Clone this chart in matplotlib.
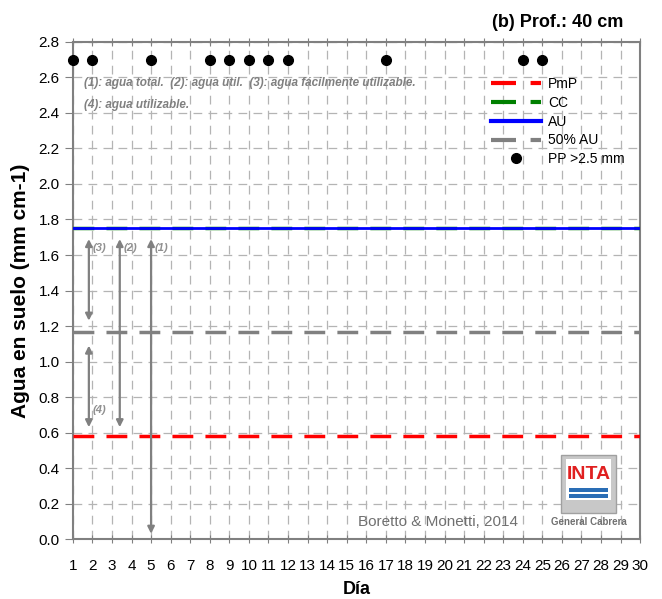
import numpy as np
import matplotlib.pyplot as plt
from matplotlib.patches import Rectangle

plt.rcParams['font.family'] = ['Liberation Sans', 'DejaVu Sans']

# Data
days = np.arange(1, 31)
pmp = 0.58   # punto de marchitez permanente
cc = 1.75    # capacidad de campo
au = 1.75    # agua util
au50 = (pmp + cc) / 2
rain_days = [1, 2, 5, 8, 9, 10, 11, 12, 17, 24, 25]
rain_level = 2.7

fig = plt.figure(figsize=(6.62, 5.99), dpi=100)
ax = fig.add_axes([0.110, 0.100, 0.857, 0.830])

ax.plot(days, np.full(days.size, pmp), color='red', lw=2.5, dashes=(6, 3.5), label='PmP', zorder=3)
ax.plot(days, np.full(days.size, cc), color='green', lw=2.5, dashes=(6, 3.5), label='CC', zorder=3)
ax.plot(days, np.full(days.size, au), color='blue', lw=2.0, label='AU', zorder=4)
ax.plot(days, np.full(days.size, au50), color='gray', lw=2.5, dashes=(6, 3.5), label='50% AU', zorder=3)
ax.plot(rain_days, np.full(len(rain_days), rain_level), 'o', color='black', ms=7,
        label='PP >2.5 mm', zorder=5, clip_on=False)

ax.set_xlim(1, 30)
ax.set_ylim(0, 2.8)
ax.set_xticks(days)
ax.set_yticks(np.arange(0, 2.81, 0.2))
ax.set_yticklabels([f'{v:.1f}' for v in np.arange(0, 2.81, 0.2)])
ax.grid(True, color='#b4b4b4', ls=(0, (7, 5)), lw=0.9)
ax.tick_params(axis='x', labelsize=11, pad=11, direction='inout', length=6, color='gray',
               top=True)
ax.tick_params(axis='y', labelsize=11, direction='out', length=6, color='gray')
for s in ax.spines.values():
    s.set_color('gray')
    s.set_linewidth(1.5)

ax.set_xlabel('Día', fontsize=13, fontweight='bold', labelpad=6)
ax.set_ylabel('Agua en suelo (mm cm-1)', fontsize=15, fontweight='bold', labelpad=6)
fig.text(0.942, 0.962, '(b) Prof.: 40 cm', ha='right', va='center', fontsize=13, fontweight='bold')

# arrows
arr = dict(arrowstyle='<|-|>', color='gray', lw=1.6, mutation_scale=10, shrinkA=0, shrinkB=0)
ax.annotate('', xy=(1.82, 1.23), xytext=(1.82, 1.69), arrowprops=arr)
ax.annotate('', xy=(1.82, 0.63), xytext=(1.82, 1.09), arrowprops=arr)
ax.annotate('', xy=(3.4, 0.63), xytext=(3.4, 1.69), arrowprops=arr)
ax.annotate('', xy=(5.0, 0.03), xytext=(5.0, 1.69), arrowprops=arr)
lab = dict(fontsize=8, style='italic', color='#909090', fontweight='bold')
ax.text(2.0, 1.62, '(3)', **lab)
ax.text(3.6, 1.62, '(2)', **lab)
ax.text(5.2, 1.62, '(1)', **lab)
ax.text(2.0, 0.71, '(4)', **lab)

note = dict(fontsize=8.5, style='italic', color='#808080', fontweight='bold')
ax.text(1.55, 2.57, '(1): agua total.  (2): agua útil.  (3): agua fácilmente utilizable.',
        va='center', **note)
ax.text(1.55, 2.445, '(4): agua utilizable.', va='center', **note)

leg = ax.legend(loc='upper right', bbox_to_anchor=(0.995, 0.955), frameon=False, fontsize=10,
                handlelength=3.6, labelspacing=0.35, handletextpad=0.5)
for h in leg.get_lines():
    h.set_linewidth(3)

ax.text(19.65, 0.098, 'Boretto & Monetti, 2014', ha='center', va='center', fontsize=11,
        color='#707070')

# INTA logo
ax.add_patch(Rectangle((25.95, 0.146), 2.82, 0.327, facecolor='#c8c8c8', edgecolor='#a0a0a0', zorder=6))
ax.add_patch(Rectangle((26.2, 0.22), 2.32, 0.23, facecolor='white', edgecolor='none', zorder=7))
ax.text(27.36, 0.365, 'INTA', ha='center', va='center', fontsize=14, fontweight='bold',
        color='#e02020', zorder=8)
ax.add_patch(Rectangle((26.35, 0.266), 2.02, 0.02, facecolor='#2a6db5', edgecolor='none', zorder=8))
ax.add_patch(Rectangle((26.35, 0.232), 2.02, 0.02, facecolor='#2a6db5', edgecolor='none', zorder=8))
ax.text(27.36, 0.098, 'General Cabrera', ha='center', va='center', fontsize=7, fontweight='bold',
        color='#707070', zorder=8)

fig.savefig('out.png', dpi=100)
